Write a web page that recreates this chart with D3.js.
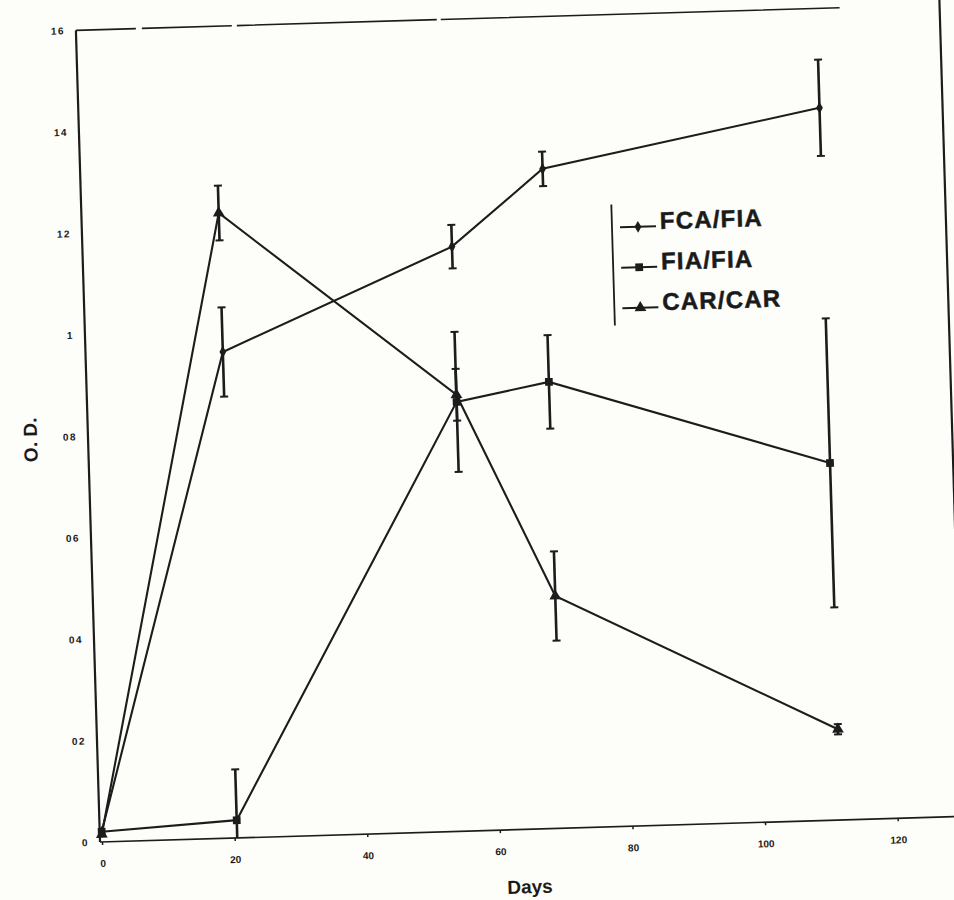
<!DOCTYPE html>
<html>
<head>
<meta charset="utf-8">
<script src="https://cdn.jsdelivr.net/npm/d3@7"></script>
<style>
  html, body { margin: 0; padding: 0; background: #fdfdf9; }
  svg { display: block; }
  text { font-family: "Liberation Sans", Arial, sans-serif; font-weight: bold; fill: #1a1a1a; }
</style>
</head>
<body>
<script>
// ---- data ----
const days = [0, 20.4, 55.4, 69.4, 111.4];
const seriesNames = ["FCA/FIA", "FIA/FIA", "CAR/CAR"];
const fcaMean = [0.02, 0.958, 1.152, 1.300, 1.404];
const fcaErr  = [0, 0.088, 0.043, 0.034, 0.095];
const fiaMean = [0.02, 0.035, 0.846, 0.880, 0.704];
const fiaErr  = [0, 0.10, 0.138, 0.092, 0.285];
const carMean = [0.015, 1.232, 0.86, 0.458, 0.179];
const carErr  = [0, 0.054, 0.051, 0.088, 0.01];
const xTicks = [0, 20, 40, 60, 80, 100, 120];
const yTickValues = [0, 0.2, 0.4, 0.6, 0.8, 1.0, 1.2, 1.4, 1.6];
const yTickLabels = ["0", "02", "04", "06", "08", "1", "12", "14", "16"];
const xTitle = "Days";
const yTitle = "O. D.";

const W = 954, H = 900;
const plotW = 864, plotH = 812;

const svg = d3.select("body").append("svg").attr("width", W).attr("height", H);
svg.append("rect").attr("width", W).attr("height", H).attr("fill", "#fdfdf9");

// whole scanned figure is slightly tilted
const g = svg.append("g").attr("transform", "translate(100,842) rotate(-1.7)");

const x = d3.scaleLinear().domain([0, 120]).range([2, 798]);
const y = d3.scaleLinear().domain([0, 1.6]).range([0, -plotH]);

const ink = "#1c1c1c";

// frame
g.append("line").attr("x1", 0).attr("x2", 0).attr("y1", 0).attr("y2", -plotH)
  .attr("stroke", ink).attr("stroke-width", 2.2);
g.append("line").attr("x1", 0).attr("x2", plotW + 14).attr("y1", 0).attr("y2", 0)
  .attr("stroke", ink).attr("stroke-width", 1.6);
g.append("line").attr("x1", 0).attr("x2", plotW - 100).attr("y1", -plotH).attr("y2", -plotH)
  .attr("stroke", ink).attr("stroke-width", 1.6).attr("stroke-dasharray", "60 6 90 5 200 4 400");
g.append("line").attr("x1", plotW).attr("x2", plotW).attr("y1", -plotH - 40).attr("y2", -20)
  .attr("stroke", ink).attr("stroke-width", 2.2);

// x axis ticks & labels
const xAxis = d3.axisBottom(x).tickValues(xTicks).tickSize(3).tickPadding(15).tickSizeOuter(0);
const xg = g.append("g").call(xAxis);
xg.select(".domain").remove();
xg.selectAll("line").attr("stroke", ink).attr("stroke-width", 1.5);
xg.selectAll("text").attr("font-size", 10).attr("font-weight", "bold")
  .attr("font-family", "Liberation Sans, Arial, sans-serif").attr("fill", ink);

// y axis labels
const yAxis = d3.axisLeft(y).tickValues(yTickValues)
  .tickFormat((d, i) => yTickLabels[i]).tickSize(0).tickPadding(11);
const yg = g.append("g").call(yAxis);
yg.select(".domain").remove();
yg.selectAll("text").attr("font-size", 10).attr("font-weight", "bold")
  .attr("letter-spacing", "1.5px")
  .attr("font-family", "Liberation Sans, Arial, sans-serif").attr("fill", ink);

// axis titles
g.append("text").attr("x", x(64.3)).attr("y", 64).attr("text-anchor", "middle")
  .attr("font-size", 19).text(xTitle);
g.append("text").attr("transform", `translate(-51,${y(0.796)}) rotate(-90)`)
  .attr("text-anchor", "middle").attr("font-size", 19).text(yTitle);

// series
const symbols = [d3.symbolDiamond, d3.symbolSquare, d3.symbolTriangle];
const symSizes = [40, 60, 60];
const series = [
  { name: seriesNames[0], mean: fcaMean, err: fcaErr },
  { name: seriesNames[1], mean: fiaMean, err: fiaErr },
  { name: seriesNames[2], mean: carMean, err: carErr }
];

const line = d3.line().x(d => x(d.day)).y(d => y(d.v));

series.forEach((s, si) => {
  const pts = days.map((d, i) => ({ day: d, v: s.mean[i], e: s.err[i] }));
  const sg = g.append("g");
  sg.append("path").datum(pts).attr("d", line).attr("fill", "none")
    .attr("stroke", ink).attr("stroke-width", 2.1);
  const eb = sg.selectAll(".eb").data(pts.filter(p => p.e > 0)).enter().append("g");
  eb.append("line").attr("x1", p => x(p.day)).attr("x2", p => x(p.day))
    .attr("y1", p => y(Math.max(0, p.v - p.e))).attr("y2", p => y(p.v + p.e))
    .attr("stroke", ink).attr("stroke-width", 2.6);
  eb.append("line").attr("x1", p => x(p.day) - 4).attr("x2", p => x(p.day) + 4)
    .attr("y1", p => y(p.v + p.e)).attr("y2", p => y(p.v + p.e))
    .attr("stroke", ink).attr("stroke-width", 2);
  eb.filter(p => p.v - p.e > 0).append("line")
    .attr("x1", p => x(p.day) - 4).attr("x2", p => x(p.day) + 4)
    .attr("y1", p => y(p.v - p.e)).attr("y2", p => y(p.v - p.e))
    .attr("stroke", ink).attr("stroke-width", 2);
  sg.selectAll(".m").data(pts).enter().append("path")
    .attr("d", d3.symbol().type(symbols[si]).size(symSizes[si]))
    .attr("transform", p => `translate(${x(p.day)},${y(p.v)})`)
    .attr("fill", ink);
});

// legend
const lg = g.append("g").attr("transform", "translate(530,-622)");
lg.append("line").attr("x1", 0).attr("x2", 0).attr("y1", 0).attr("y2", 121)
  .attr("stroke", ink).attr("stroke-width", 1.8);
series.forEach((s, i) => {
  const yy = 26 + i * 40.5;
  lg.append("line").attr("x1", 8).attr("x2", 44).attr("y1", yy - 3).attr("y2", yy - 3)
    .attr("stroke", ink).attr("stroke-width", 2);
  lg.append("path").attr("d", d3.symbol().type(symbols[i]).size(symSizes[i])())
    .attr("transform", `translate(26,${yy - 3})`).attr("fill", ink);
  lg.append("text").attr("x", 48).attr("y", yy).attr("font-size", 24)
    .attr("letter-spacing", "1.2px").attr("stroke", ink).attr("stroke-width", 0.5)
    .text(s.name);
});
</script>
</body>
</html>
